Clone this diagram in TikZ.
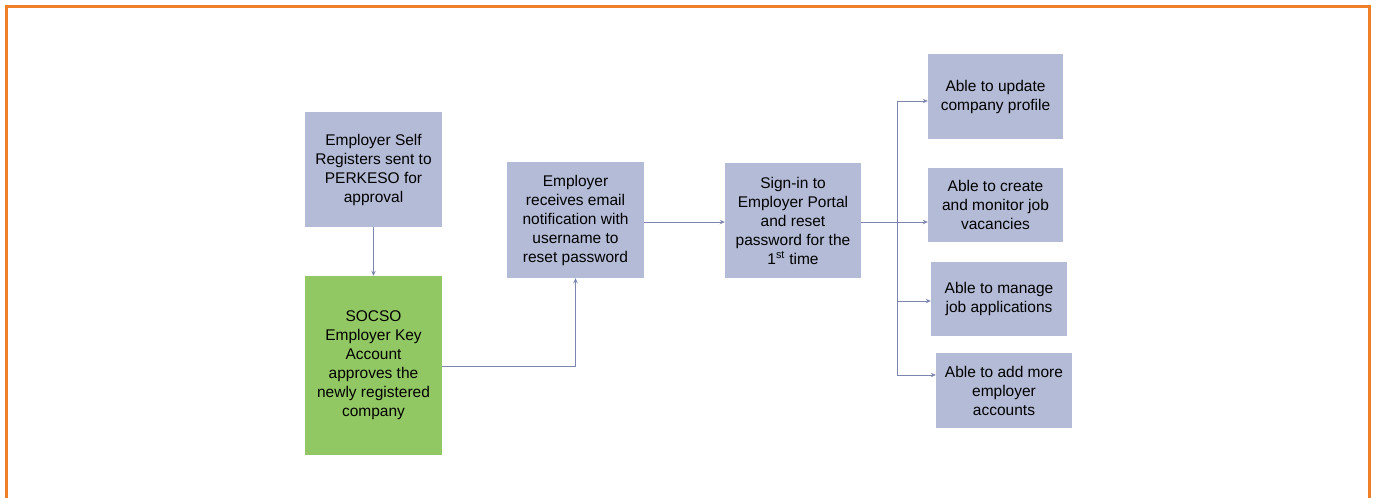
\documentclass[tikz,border=0pt]{standalone}
\usepackage{fontspec}
\setmainfont{Liberation Sans}
\usetikzlibrary{arrows.meta}
\definecolor{boxblue}{RGB}{180,187,214}
\definecolor{boxgreen}{RGB}{146,200,100}
\definecolor{linec}{RGB}{125,134,175}
\definecolor{framec}{RGB}{240,128,40}
\begin{document}
\begin{tikzpicture}[x=1pt,y=-1pt,
  box/.style={fill=boxblue, draw=none, align=center, inner sep=0pt,
    font=\fontsize{15.5}{19}\selectfont, text=black},
  conn/.style={draw=linec, line width=0.8pt, -{Stealth[length=5pt,width=4.5pt]}},
  plain/.style={draw=linec, line width=0.8pt}]
\useasboundingbox (0,0) rectangle (1377,498);
\draw[framec, line width=3pt] (6,498) -- (6,6) -- (1369,6) -- (1369,498);
\node[box, minimum width=137pt, minimum height=115pt] (b1) at (373.5,169.5)
  {Employer Self\\Registers sent to\\PERKESO for\\approval};
\node[box, fill=boxgreen, minimum width=137pt, minimum height=179pt] (b2) at (373.5,365.5)
  {SOCSO\\Employer Key\\Account\\approves the\\newly registered\\company};
\node[box, minimum width=137pt, minimum height=116pt] (b3) at (575.5,220)
  {Employer\\receives email\\notification with\\username to\\reset password};
\node[box, minimum width=136pt, minimum height=115pt] (b4) at (793,220.5)
  {Sign-in to\\Employer Portal\\and reset\\password for the\\1\textsuperscript{st} time};
\node[box, minimum width=135pt, minimum height=85pt] (b5) at (995.5,96.5)
  {Able to update\\company profile};
\node[box, minimum width=135pt, minimum height=74pt] (b6) at (995.5,205)
  {Able to create\\and monitor job\\vacancies};
\node[box, minimum width=136pt, minimum height=74pt] (b7) at (999,299)
  {Able to manage\\job applications};
\node[box, minimum width=136pt, minimum height=75pt] (b8) at (1004,390.5)
  {Able to add more\\employer\\accounts};
\draw[conn] (b1.south) -- (b2.north);
\draw[conn] (b2.east |- 0,366) -| (b3.south);
\draw[conn] (b3.east |- 0,222) -- (b4.west |- 0,222);
\coordinate (j) at (897,222);
\coordinate (jt) at (897,101);
\coordinate (jb) at (897,375);
\draw[plain] (b4.east |- 0,222) -- (j);
\draw[plain] (jt) -- (jb);
\draw[conn] (jt) -- (b5.west |- jt);
\draw[conn] (j) -- (b6.west |- j);
\draw[conn] (897,301) -- (b7.west |- 0,301);
\draw[conn] (jb) -- (b8.west |- jb);
\end{tikzpicture}
\end{document}
